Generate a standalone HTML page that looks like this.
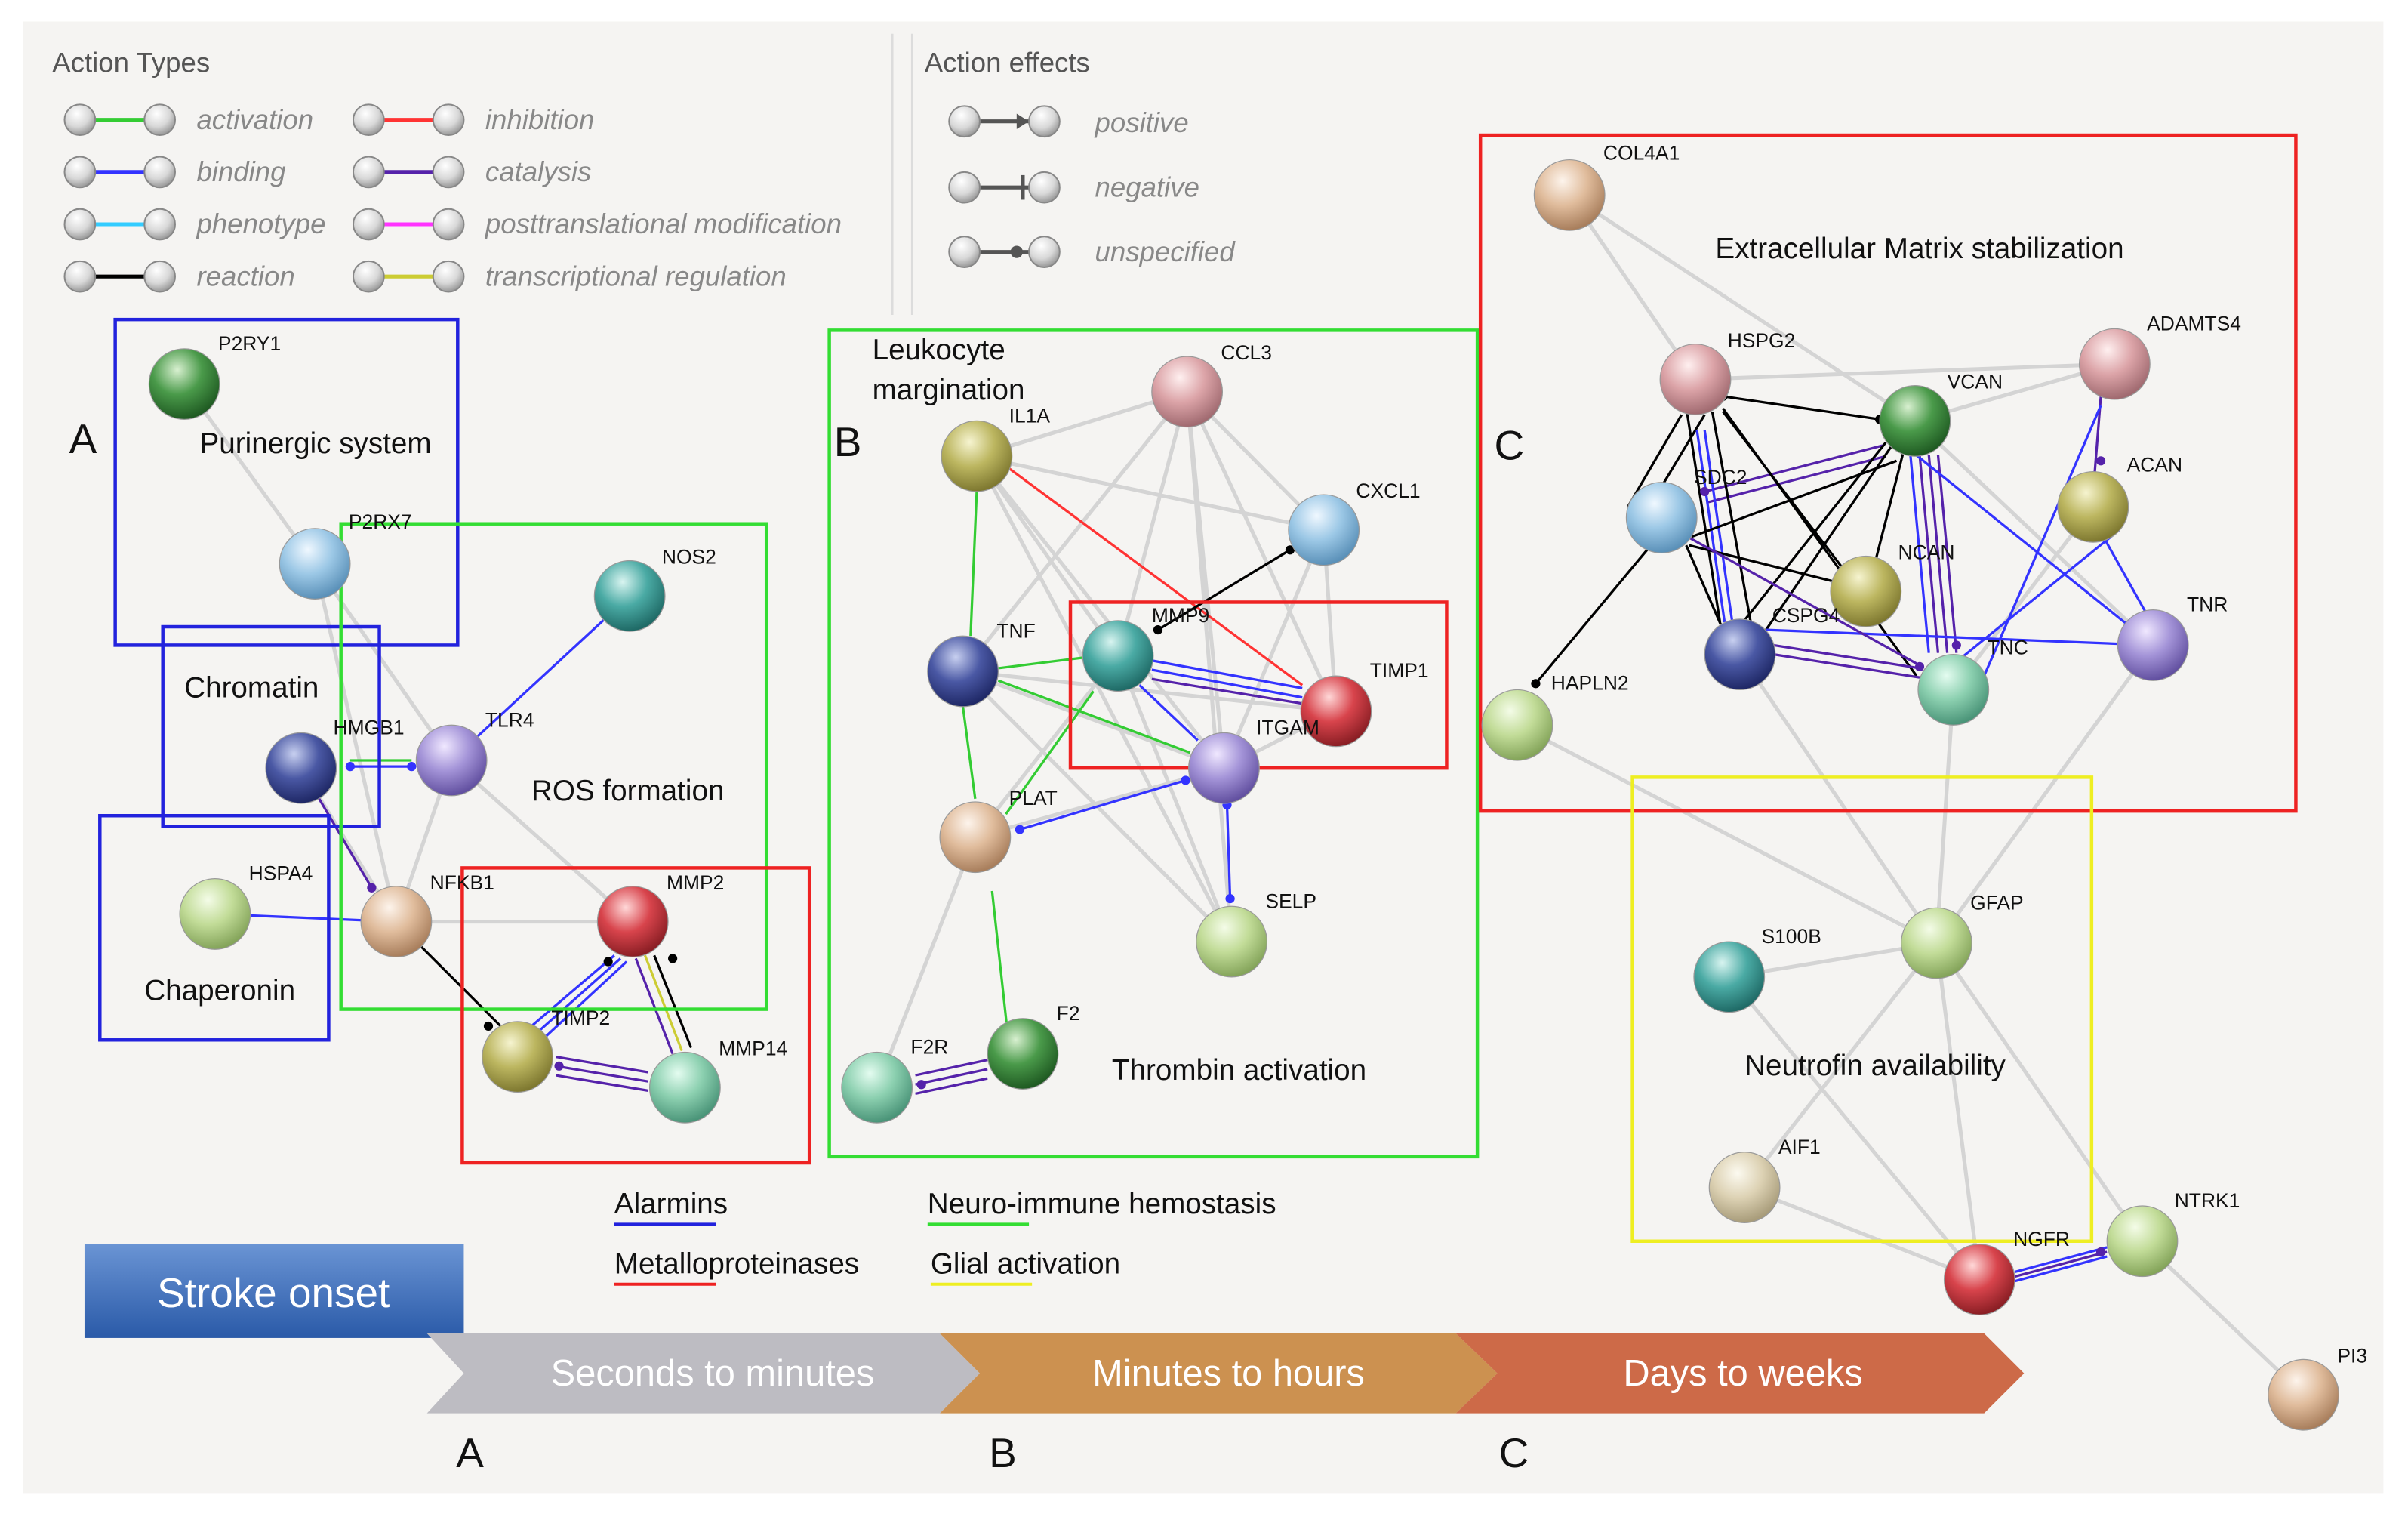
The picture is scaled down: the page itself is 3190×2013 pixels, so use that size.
<!DOCTYPE html>
<html><head><meta charset="utf-8"><style>
html,body{margin:0;padding:0;background:#fff}
svg{display:block}
text{font-family:"Liberation Sans",sans-serif}
</style></head><body>
<svg width="3190" height="2013" viewBox="0 0 1568 989.5" xmlns="http://www.w3.org/2000/svg">
<defs>
<radialGradient id="gG" cx="40%" cy="30%" r="70%"><stop offset="0" stop-color="#d8f0d0"/><stop offset=".5" stop-color="#4a9a4a"/><stop offset="1" stop-color="#1f5a22"/></radialGradient>
<radialGradient id="gLB" cx="40%" cy="30%" r="70%"><stop offset="0" stop-color="#f0f8ff"/><stop offset=".5" stop-color="#9cc8e6"/><stop offset="1" stop-color="#5a90b8"/></radialGradient>
<radialGradient id="gT" cx="40%" cy="30%" r="70%"><stop offset="0" stop-color="#d8f4f0"/><stop offset=".5" stop-color="#4aaaa4"/><stop offset="1" stop-color="#1f6a66"/></radialGradient>
<radialGradient id="gDB" cx="40%" cy="30%" r="70%"><stop offset="0" stop-color="#c8d0f0"/><stop offset=".5" stop-color="#4a58a4"/><stop offset="1" stop-color="#1f2866"/></radialGradient>
<radialGradient id="gP" cx="40%" cy="30%" r="70%"><stop offset="0" stop-color="#f0e8ff"/><stop offset=".5" stop-color="#a494d8"/><stop offset="1" stop-color="#6250a0"/></radialGradient>
<radialGradient id="gLG" cx="40%" cy="30%" r="70%"><stop offset="0" stop-color="#f4fce8"/><stop offset=".5" stop-color="#c2dc98"/><stop offset="1" stop-color="#84a45a"/></radialGradient>
<radialGradient id="gTan" cx="40%" cy="30%" r="70%"><stop offset="0" stop-color="#fdf4ec"/><stop offset=".5" stop-color="#e0bc9c"/><stop offset="1" stop-color="#a87e5c"/></radialGradient>
<radialGradient id="gR" cx="40%" cy="30%" r="70%"><stop offset="0" stop-color="#ffd8d8"/><stop offset=".5" stop-color="#d8444c"/><stop offset="1" stop-color="#8a1e24"/></radialGradient>
<radialGradient id="gO" cx="40%" cy="30%" r="70%"><stop offset="0" stop-color="#f6f4d0"/><stop offset=".5" stop-color="#bcb660"/><stop offset="1" stop-color="#7e7830"/></radialGradient>
<radialGradient id="gM" cx="40%" cy="30%" r="70%"><stop offset="0" stop-color="#e4fcf0"/><stop offset=".5" stop-color="#8cd0b0"/><stop offset="1" stop-color="#4a9478"/></radialGradient>
<radialGradient id="gPk" cx="40%" cy="30%" r="70%"><stop offset="0" stop-color="#fff0f0"/><stop offset=".5" stop-color="#dca4a8"/><stop offset="1" stop-color="#a06a70"/></radialGradient>
<radialGradient id="gBg" cx="40%" cy="30%" r="70%"><stop offset="0" stop-color="#fcfaf0"/><stop offset=".5" stop-color="#ddd2b4"/><stop offset="1" stop-color="#a89c7a"/></radialGradient>
<radialGradient id="gLeg" cx="40%" cy="30%" r="70%"><stop offset="0" stop-color="#fff"/><stop offset=".6" stop-color="#d8d8d8"/><stop offset="1" stop-color="#999"/></radialGradient>
<linearGradient id="stk" x1="0" y1="0" x2="0" y2="1"><stop offset="0" stop-color="#6a94d4"/><stop offset="1" stop-color="#2a5aa8"/></linearGradient>
</defs>
<rect x="0" y="0" width="1568" height="990" fill="#fff"/>
<rect x="15" y="14" width="1537" height="958" fill="#f5f4f2"/>
<line x1="581" y1="22" x2="581" y2="205" stroke="#dcdcdc" stroke-width="1.5"/>
<line x1="594" y1="22" x2="594" y2="205" stroke="#dcdcdc" stroke-width="1.5"/>

<!-- legend -->
<g font-size="18" fill="#555">
<text x="34" y="47">Action Types</text>
<text x="602" y="47">Action effects</text>
</g>
<g stroke-width="2.5">
<line x1="52" y1="78" x2="104" y2="78" stroke="#3c3"/>
<line x1="52" y1="112" x2="104" y2="112" stroke="#33f"/>
<line x1="52" y1="146" x2="104" y2="146" stroke="#3cf"/>
<line x1="52" y1="180" x2="104" y2="180" stroke="#000"/>
<line x1="240" y1="78" x2="292" y2="78" stroke="#f33"/>
<line x1="240" y1="112" x2="292" y2="112" stroke="#52a"/>
<line x1="240" y1="146" x2="292" y2="146" stroke="#f3f"/>
<line x1="240" y1="180" x2="292" y2="180" stroke="#cc3"/>
<line x1="628" y1="79" x2="680" y2="79" stroke="#555"/>
<line x1="628" y1="122" x2="680" y2="122" stroke="#555"/>
<line x1="628" y1="164" x2="680" y2="164" stroke="#555"/>
</g>
<path d="M662 74 L670 79 L662 84Z" fill="#555"/><line x1="666" y1="114" x2="666" y2="130" stroke="#555" stroke-width="2.5"/><circle cx="662" cy="164" r="4" fill="#555"/>
<g fill="url(#gLeg)" stroke="#888" stroke-width="1">
<circle cx="52" cy="78" r="10"/><circle cx="104" cy="78" r="10"/>
<circle cx="52" cy="112" r="10"/><circle cx="104" cy="112" r="10"/>
<circle cx="52" cy="146" r="10"/><circle cx="104" cy="146" r="10"/>
<circle cx="52" cy="180" r="10"/><circle cx="104" cy="180" r="10"/>
<circle cx="240" cy="78" r="10"/><circle cx="292" cy="78" r="10"/>
<circle cx="240" cy="112" r="10"/><circle cx="292" cy="112" r="10"/>
<circle cx="240" cy="146" r="10"/><circle cx="292" cy="146" r="10"/>
<circle cx="240" cy="180" r="10"/><circle cx="292" cy="180" r="10"/>
<circle cx="628" cy="79" r="10"/><circle cx="680" cy="79" r="10"/>
<circle cx="628" cy="122" r="10"/><circle cx="680" cy="122" r="10"/>
<circle cx="628" cy="164" r="10"/><circle cx="680" cy="164" r="10"/>
</g>
<g font-size="18" fill="#888" font-style="italic">
<text x="128" y="84">activation</text><text x="128" y="118">binding</text><text x="128" y="152">phenotype</text><text x="128" y="186">reaction</text>
<text x="316" y="84">inhibition</text><text x="316" y="118">catalysis</text><text x="316" y="152">posttranslational modification</text><text x="316" y="186">transcriptional regulation</text>
<text x="713" y="86">positive</text><text x="713" y="128">negative</text><text x="713" y="170">unspecified</text>
</g>

<!-- gray edges -->
<g stroke="#d4d4d4" stroke-width="2.5" fill="none">
<path d="M120 250L205 367M205 367L294 495M205 367L258 600M196 500L258 600M294 495L258 600M258 600L412 600M294 495L412 600"/>
<path d="M636 297L773 255M636 297L862 345M636 297L728 427M636 297L797 500M773 255L627 437M773 255L728 427M773 255L797 500M773 255L862 345M773 255L870 463M862 345L797 500M862 345L870 463M627 437L797 500M627 437L870 463M627 437L802 613M728 427L802 613M728 427L635 545M635 545L797 500M635 545L571 708M797 500L870 463M636 297L802 613M773 255L802 613"/>
<path d="M1022 127L1104 247M1104 247L1377 237M1247 274L1377 237M1247 274L1402 420M1363 330L1272 449M1022 127L1247 274"/>
<path d="M988 472L1261 614M1133 426L1261 614M1272 449L1261 614M1402 420L1261 614M1126 636L1261 614M1136 773L1261 614M1261 614L1289 833M1261 614L1395 808M1136 773L1289 833M1395 808L1500 908M1289 833L1126 636"/>
</g>

<!-- colored edges -->
<g stroke-width="1.6" fill="none">
<path d="M410 388L294 495" stroke="#33f"/>
<path d="M228 495L268 495" stroke="#3c3"/><path d="M228 499L268 499" stroke="#33f"/>
<path d="M140 595L258 600" stroke="#33f"/>
<path d="M196 500L242 578" stroke="#52a"/>
<path d="M205 367L222 367" stroke="#3c3"/>
<path d="M258 600L330 672" stroke="#000"/>
<path d="M400 622L346 668M404 624L350 672M408 626L354 676" stroke="#33f"/>
<path d="M414 624L438 686" stroke="#52a"/><path d="M420 622L444 684" stroke="#cc3"/><path d="M426 622L450 682" stroke="#000"/>
<path d="M362 688L422 698M362 694L422 704M362 700L422 710" stroke="#52a"/>
<path d="M636 320L632 414" stroke="#3c3"/>
<path d="M627 460L635 520" stroke="#3c3"/>
<path d="M650 435L706 428" stroke="#3c3"/>
<path d="M650 443L775 490" stroke="#3c3"/>
<path d="M655 530L712 450" stroke="#3c3"/>
<path d="M645 296L848 446" stroke="#f33"/>
<path d="M754 410L840 358" stroke="#000"/>
<path d="M750 430L848 448M750 436L848 454" stroke="#33f"/><path d="M750 442L848 458" stroke="#52a"/>
<path d="M742 446L780 482" stroke="#33f"/>
<path d="M664 540L772 508" stroke="#33f"/>
<path d="M799 524L801 585" stroke="#33f"/>
<path d="M660 708L646 580" stroke="#3c3"/>
<path d="M596 700L643 690M596 706L643 696M596 712L643 702" stroke="#52a"/>
<path d="M1122 258L1224 273" stroke="#000"/>
<path d="M1110 320L1226 290M1112 327L1228 297" stroke="#52a"/>
<path d="M1095 270L1060 330M1110 270L1080 320M1115 268L1140 405M1122 268L1200 370M1098 265L1120 405M1122 266L1248 440" stroke="#000"/>
<path d="M1105 280L1123 405M1110 280L1128 405" stroke="#33f"/>
<path d="M1100 355L1200 380M1098 355L1122 410M1100 350L1235 300" stroke="#000"/>
<path d="M1240 292L1220 370M1232 290L1150 410M1228 288L1135 405" stroke="#000"/>
<path d="M1250 296L1262 425M1256 296L1268 425M1262 296L1274 425" stroke="#52a"/><path d="M1244 296L1256 425" stroke="#33f"/>
<path d="M1240 290L1402 420" stroke="#33f"/>
<path d="M1368 258L1364 308" stroke="#52a"/>
<path d="M1292 440L1368 264" stroke="#33f"/>
<path d="M1275 430L1380 345" stroke="#33f"/>
<path d="M1370 350L1398 400" stroke="#33f"/>
<path d="M1155 420L1250 435M1155 426L1250 441" stroke="#52a"/>
<path d="M1150 410L1402 420" stroke="#33f"/>
<path d="M1100 350L1248 432" stroke="#52a"/>
<path d="M1000 445L1075 355" stroke="#000"/>
<path d="M1312 828L1372 812M1312 834L1372 818" stroke="#33f"/><path d="M1312 831L1372 815" stroke="#52a"/>
</g>
<g fill="#000"><circle cx="1122" cy="258" r="3"/><circle cx="1224" cy="273" r="3"/><circle cx="1000" cy="445" r="3"/><circle cx="754" cy="410" r="3"/><circle cx="840" cy="358" r="3"/><circle cx="318" cy="668" r="3"/><circle cx="396" cy="626" r="3"/><circle cx="438" cy="624" r="3"/></g>
<g fill="#33f"><circle cx="664" cy="540" r="3"/><circle cx="772" cy="508" r="3"/><circle cx="801" cy="585" r="3"/><circle cx="799" cy="524" r="3"/><circle cx="228" cy="499" r="3"/><circle cx="268" cy="499" r="3"/></g>
<g fill="#52a"><circle cx="242" cy="578" r="3"/><circle cx="1110" cy="320" r="3"/><circle cx="1368" cy="300" r="3"/><circle cx="1274" cy="420" r="3"/><circle cx="1250" cy="434" r="3"/><circle cx="1368" cy="815" r="3"/><circle cx="364" cy="694" r="3"/><circle cx="600" cy="706" r="3"/></g>

<!-- boxes -->
<g fill="none" stroke-width="2.2">
<rect x="75" y="208" width="223" height="212" stroke="#22d"/>
<rect x="106" y="408" width="141" height="130" stroke="#22d"/>
<rect x="65" y="531" width="149" height="146" stroke="#22d"/>
<rect x="222" y="341" width="277" height="316" stroke="#3d3"/>
<rect x="301" y="565" width="226" height="192" stroke="#e22"/>
<rect x="540" y="215" width="422" height="538" stroke="#3d3"/>
<rect x="697" y="392" width="245" height="108" stroke="#e22"/>
<rect x="964" y="88" width="531" height="440" stroke="#e22"/>
<rect x="1063" y="506" width="299" height="302" stroke="#ee2"/>
</g>

<!-- nodes -->
<g stroke="#999" stroke-width="0.6">
<circle cx="120" cy="250" r="23" fill="url(#gG)"/>
<circle cx="205" cy="367" r="23" fill="url(#gLB)"/>
<circle cx="410" cy="388" r="23" fill="url(#gT)"/>
<circle cx="196" cy="500" r="23" fill="url(#gDB)"/>
<circle cx="294" cy="495" r="23" fill="url(#gP)"/>
<circle cx="140" cy="595" r="23" fill="url(#gLG)"/>
<circle cx="258" cy="600" r="23" fill="url(#gTan)"/>
<circle cx="412" cy="600" r="23" fill="url(#gR)"/>
<circle cx="337" cy="688" r="23" fill="url(#gO)"/>
<circle cx="446" cy="708" r="23" fill="url(#gM)"/>
<circle cx="636" cy="297" r="23" fill="url(#gO)"/>
<circle cx="773" cy="255" r="23" fill="url(#gPk)"/>
<circle cx="862" cy="345" r="23" fill="url(#gLB)"/>
<circle cx="627" cy="437" r="23" fill="url(#gDB)"/>
<circle cx="728" cy="427" r="23" fill="url(#gT)"/>
<circle cx="870" cy="463" r="23" fill="url(#gR)"/>
<circle cx="797" cy="500" r="23" fill="url(#gP)"/>
<circle cx="635" cy="545" r="23" fill="url(#gTan)"/>
<circle cx="802" cy="613" r="23" fill="url(#gLG)"/>
<circle cx="571" cy="708" r="23" fill="url(#gM)"/>
<circle cx="666" cy="686" r="23" fill="url(#gG)"/>
<circle cx="1022" cy="127" r="23" fill="url(#gTan)"/>
<circle cx="1104" cy="247" r="23" fill="url(#gPk)"/>
<circle cx="1247" cy="274" r="23" fill="url(#gG)"/>
<circle cx="1377" cy="237" r="23" fill="url(#gPk)"/>
<circle cx="1082" cy="337" r="23" fill="url(#gLB)"/>
<circle cx="1363" cy="330" r="23" fill="url(#gO)"/>
<circle cx="1215" cy="385" r="23" fill="url(#gO)"/>
<circle cx="1133" cy="426" r="23" fill="url(#gDB)"/>
<circle cx="1272" cy="449" r="23" fill="url(#gM)"/>
<circle cx="1402" cy="420" r="23" fill="url(#gP)"/>
<circle cx="988" cy="472" r="23" fill="url(#gLG)"/>
<circle cx="1126" cy="636" r="23" fill="url(#gT)"/>
<circle cx="1261" cy="614" r="23" fill="url(#gLG)"/>
<circle cx="1136" cy="773" r="23" fill="url(#gBg)"/>
<circle cx="1289" cy="833" r="23" fill="url(#gR)"/>
<circle cx="1395" cy="808" r="23" fill="url(#gLG)"/>
<circle cx="1500" cy="908" r="23" fill="url(#gTan)"/>
</g>

<!-- node labels -->
<g font-size="13" fill="#111">
<text x="142" y="228">P2RY1</text><text x="227" y="344">P2RX7</text><text x="431" y="367">NOS2</text>
<text x="217" y="478">HMGB1</text><text x="316" y="473">TLR4</text><text x="162" y="573">HSPA4</text>
<text x="280" y="579">NFKB1</text><text x="434" y="579">MMP2</text><text x="359" y="667">TIMP2</text><text x="468" y="687">MMP14</text>
<text x="657" y="275">IL1A</text><text x="795" y="234">CCL3</text><text x="883" y="324">CXCL1</text><text x="649" y="415">TNF</text>
<text x="750" y="405">MMP9</text><text x="892" y="441">TIMP1</text><text x="818" y="478">ITGAM</text><text x="657" y="524">PLAT</text>
<text x="824" y="591">SELP</text><text x="593" y="686">F2R</text><text x="688" y="664">F2</text>
<text x="1044" y="104">COL4A1</text><text x="1125" y="226">HSPG2</text><text x="1268" y="253">VCAN</text><text x="1398" y="215">ADAMTS4</text>
<text x="1103" y="315">SDC2</text><text x="1385" y="307">ACAN</text><text x="1236" y="364">NCAN</text><text x="1154" y="405">CSPG4</text>
<text x="1294" y="426">TNC</text><text x="1424" y="398">TNR</text><text x="1010" y="449">HAPLN2</text><text x="1147" y="614">S100B</text>
<text x="1283" y="592">GFAP</text><text x="1158" y="751">AIF1</text><text x="1311" y="811">NGFR</text><text x="1416" y="786">NTRK1</text><text x="1522" y="887">PI3</text>
</g>

<!-- group labels -->
<g font-size="19" fill="#111">
<text x="130" y="295">Purinergic system</text>
<text x="120" y="454">Chromatin</text>
<text x="94" y="651">Chaperonin</text>
<text x="346" y="521">ROS formation</text>
<text x="568" y="234">Leukocyte</text><text x="568" y="260">margination</text>
<text x="724" y="703">Thrombin activation</text>
<text x="1117" y="168">Extracellular Matrix stabilization</text>
<text x="1136" y="700">Neutrofin availability</text>
<text x="400" y="790">Alarmins</text><text x="400" y="829">Metalloproteinases</text>
<text x="604" y="790">Neuro-immune hemostasis</text><text x="606" y="829">Glial activation</text>
</g>
<g stroke-width="2"><line x1="400" y1="797" x2="466" y2="797" stroke="#22d"/><line x1="400" y1="836" x2="466" y2="836" stroke="#e22"/><line x1="604" y1="797" x2="670" y2="797" stroke="#3d3"/><line x1="606" y1="836" x2="672" y2="836" stroke="#ee2"/></g>
<g font-size="27" fill="#111"><text x="45" y="295">A</text><text x="543" y="297">B</text><text x="973" y="299">C</text>
<text x="297" y="955">A</text><text x="644" y="955">B</text><text x="976" y="955">C</text></g>

<!-- timeline -->
<rect x="55" y="810" width="247" height="61" fill="url(#stk)"/>
<text x="178" y="851" font-size="27" fill="#fff" text-anchor="middle">Stroke onset</text>
<path d="M278 868 L612 868 L638 894 L612 920 L278 920 L302 894Z" fill="#bdbcc2"/>
<path d="M612 868 L948 868 L975 894 L948 920 L612 920 L638 894Z" fill="#cc9150"/>
<path d="M948 868 L1292 868 L1318 894 L1292 920 L948 920 L975 894Z" fill="#cd6a48"/>
<g font-size="24" fill="#fff" text-anchor="middle"><text x="464" y="902">Seconds to minutes</text><text x="800" y="902">Minutes to hours</text><text x="1135" y="902">Days to weeks</text></g>
</svg>
</body></html>
